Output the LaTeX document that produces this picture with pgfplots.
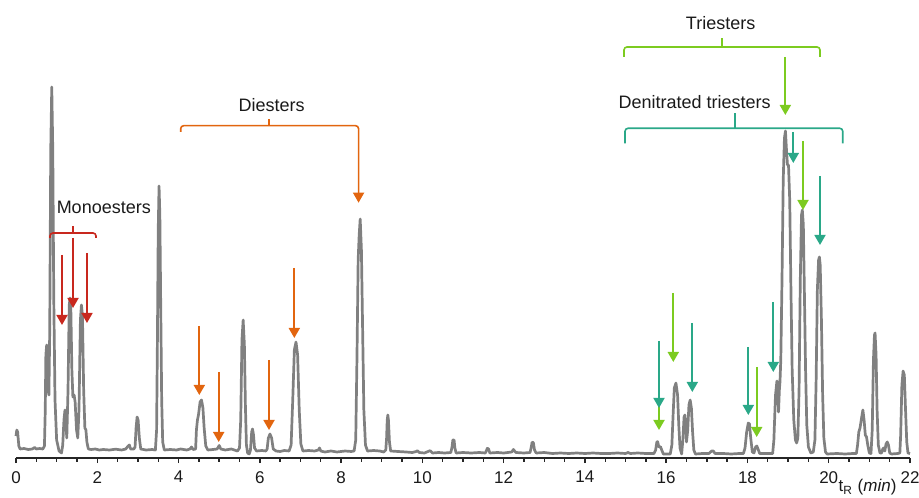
\documentclass[border=0pt]{standalone}
\usepackage{fontspec}
\setmainfont{Liberation Sans}
\usepackage{pgfplots}
\pgfplotsset{compat=1.18}
\usetikzlibrary{arrows.meta}
\definecolor{trace}{HTML}{808080}
\definecolor{monored}{HTML}{C8281E}
\definecolor{diorange}{HTML}{E2650F}
\definecolor{trigreen}{HTML}{7CCB20}
\definecolor{denteal}{HTML}{2AA888}
\definecolor{txt}{HTML}{1A1A1A}
\tikzset{
  ann/.style={line width=0.9pt, -{Triangle[width=5.5pt,length=5pt]}},
  brk/.style={line width=0.8pt, rounded corners=1.5pt},
  lbl/.style={text=txt, font=\fontsize{9}{11}\selectfont},
}

\begin{document}
\begin{tikzpicture}
% page = 919x497 px at 0.5pt per px, plot box starts at px (16,458)
\useasboundingbox (-8pt,-19.5pt) rectangle (451.5pt,229pt);
\begin{axis}[
  at={(0,0)}, anchor=south west,
  scale only axis,
  width=447pt, height=229pt,
  xmin=0, xmax=22, ymin=-8, ymax=450,
  clip=false,
  axis x line=bottom, axis y line=none,
  x axis line style={-, line width=0.75pt, draw=black!85},
  xtick={0,2,...,22},
  minor x tick num=3,
  tick align=outside,
  major tick length=2.6pt, minor tick length=2pt,
  every tick/.style={line width=0.7pt, black!85},
  tick label style={font=\fontsize{8.5}{10}\selectfont, text=txt},
  /pgf/number format/assume math mode=true,
  xticklabel style={yshift=-0.5pt},
]
\addplot[trace, line width=1.35pt, line join=round] coordinates {
(0.00,14)(0.02,20)(0.04,18)(0.07,4)(0.1,1)(0.2,1.5)(0.3,0.5)(0.4,1)(0.46,2.5)(0.5,1)(0.58,1.5)(0.66,1)
(0.70,4)(0.72,40)(0.735,95)(0.755,105)(0.775,92)(0.79,60)(0.81,55)(0.83,120)(0.855,300)(0.88,363)(0.905,300)(0.93,150)(0.96,50)(1.0,10)(1.06,-1)(1.12,-3)
(1.15,5)(1.18,30)(1.205,40)(1.225,30)(1.25,12)(1.28,60)(1.31,145)(1.33,152)(1.35,140)(1.375,80)(1.40,53)(1.43,55)(1.455,48)(1.49,20)(1.52,12)(1.55,40)(1.585,130)(1.61,145)(1.635,135)(1.665,60)(1.695,22)(1.72,20)(1.745,8)(1.78,1)(1.85,0.5)(1.95,1)(2.05,0)(2.15,0.5)(2.3,0)(2.45,0.8)(2.6,0)(2.7,1)(2.76,4)(2.79,5)(2.82,1)(2.9,1)
(2.93,3)(2.955,22)(2.98,33)(3.005,30)(3.035,12)(3.07,1)(3.2,0)(3.35,0.5)(3.43,0)
(3.46,20)(3.48,110)(3.50,220)(3.52,264)(3.54,235)(3.56,150)(3.585,50)(3.61,8)(3.65,0)(3.8,0.5)(3.95,0)(4.05,1)(4.2,0)(4.28,1)(4.32,3)(4.36,0.5)
(4.42,1)(4.44,20)(4.465,30)(4.49,35)(4.53,48)(4.565,50)(4.6,42)(4.63,22)(4.67,4)(4.72,0)(4.85,0.5)(4.95,1)(5.0,4.5)(5.04,1)(5.15,0)(5.3,1)(5.45,-1)(5.5,2)
(5.53,30)(5.56,110)(5.59,130)(5.62,105)(5.645,45)(5.67,5)(5.7,-3)(5.74,-4)
(5.77,0)(5.8,18)(5.82,21)(5.845,15)(5.87,2)(5.92,-1)(6.05,-0.5)(6.15,-1)
(6.18,1)(6.21,12)(6.25,16)(6.29,12)(6.33,1)(6.4,-1)(6.5,-1.5)(6.6,-0.5)(6.72,-1)
(6.77,5)(6.81,50)(6.85,100)(6.89,108)(6.93,95)(6.97,40)(7.01,6)(7.06,-1)(7.2,-0.5)(7.35,-1)(7.44,0)(7.47,2)(7.5,-1)(7.6,-2)(7.75,-1)(7.9,-2)(8.1,-1)(8.25,-1.5)(8.32,-1)
(8.36,10)(8.39,90)(8.42,190)(8.445,215)(8.47,231)(8.5,200)(8.53,120)(8.56,40)(8.6,5)(8.65,-1)(8.8,-0.5)(8.95,-1)(9.05,-2)(9.1,0)
(9.12,12)(9.135,30)(9.15,35)(9.165,30)(9.19,8)(9.22,-1)(9.4,-1.5)(9.6,-2)(9.75,-2.5)(9.85,-1.5)(9.88,-0.7)(9.92,-2.5)(10.05,-3)(10.19,-0.7)(10.25,-3)(10.4,-2.5)(10.55,-3)(10.7,-2.5)
(10.73,3)(10.75,10)(10.78,10)(10.8,2)(10.83,-3)(11.0,-2.5)(11.2,-3)(11.4,-2.5)(11.55,-3)(11.6,1.7)(11.63,1)(11.66,-3)(11.85,-2.5)(12.0,-3)(12.2,-2)(12.24,0.5)(12.3,-2.5)(12.5,-3)(12.65,-2.5)
(12.68,3)(12.7,7.7)(12.73,7.5)(12.76,0)(12.8,-3)(13.0,-2.5)(13.2,-3.5)(13.4,-3)(13.6,-3.5)(13.8,-3)(14.0,-3.5)(14.2,-3)(14.4,-3.5)(14.6,-3.5)(14.8,-3)(15.0,-3.5)(15.06,-2.5)(15.12,-3.5)(15.3,-3)(15.5,-3.5)(15.7,-3.5)
(15.74,0)(15.77,8)(15.79,8.3)(15.82,3)(15.86,3.3)(15.89,0)(15.93,-4)(16.1,-4)
(16.14,5)(16.17,35)(16.2,62)(16.24,67)(16.28,55)(16.31,25)(16.34,2)(16.38,-4)(16.41,10)(16.44,33)(16.46,35)(16.48,25)(16.5,8)(16.53,20)(16.56,45)(16.59,50)(16.62,42)(16.65,18)(16.68,0)(16.72,-4)(16.9,-3.5)(17.05,-3.5)(17.12,-1)(17.16,-1)(17.2,-3.5)(17.4,-3.5)(17.6,-4)(17.8,-3.5)(17.9,-3.5)
(17.94,2)(17.98,18)(18.02,27)(18.05,26)(18.08,12)(18.12,-2)(18.16,-3)(18.2,3)(18.23,4)(18.26,1)(18.3,-3.5)(18.5,-3.5)(18.62,-3.5)
(18.65,10)(18.69,55)(18.725,69)(18.75,55)(18.765,38)(18.785,60)(18.8,68)(18.82,90)(18.85,170)(18.88,270)(18.91,312)(18.935,319)(18.96,300)(18.985,285)(19.01,285)(19.04,250)(19.07,160)(19.1,80)(19.14,30)(19.18,10)(19.21,7)(19.24,12)(19.27,60)(19.3,170)(19.33,235)(19.35,240)(19.375,225)(19.4,160)(19.43,80)(19.46,25)(19.5,3)(19.56,-3)(19.62,-2)(19.66,10)(19.69,70)(19.72,160)(19.75,190)(19.77,193)(19.79,185)(19.82,130)(19.85,55)(19.88,12)(19.92,-2)(19.96,-4)(20.2,-3.5)(20.4,-4)(20.6,-3.5)(20.68,-3.5)
(20.71,5)(20.74,18)(20.77,22)(20.8,30)(20.84,40)(20.87,30)(20.9,15)(20.93,13)(20.96,5)(21.0,-3)(21.04,-3.5)
(21.07,20)(21.1,90)(21.125,115)(21.14,117)(21.165,95)(21.19,40)(21.22,5)(21.26,-3)(21.3,-3)(21.33,1)(21.35,2)(21.38,-1)(21.41,6)(21.44,8)(21.47,5)(21.5,-3)(21.55,-4)(21.7,-3.5)(21.75,-3)
(21.77,15)(21.8,65)(21.83,79)(21.86,75)(21.89,40)(21.92,8)(21.95,-3)(22.0,-3.5)
};

% Monoesters
\node[lbl] at (axis cs:2.16,243) {Monoesters};
\draw[brk, monored] (axis cs:0.837,212) -- (axis cs:0.837,217) -- (axis cs:1.969,217) -- (axis cs:1.969,212);
\draw[brk, monored] (axis cs:1.403,217) -- (axis cs:1.403,224);
\draw[ann, monored] (axis cs:1.132,195) -- (axis cs:1.132,125);
\draw[ann, monored] (axis cs:1.403,212) -- (axis cs:1.403,142);
\draw[ann, monored] (axis cs:1.747,197) -- (axis cs:1.747,127);

% Diesters
\node[lbl] at (axis cs:6.29,345) {Diesters};
\draw[brk, diorange, -{Triangle[width=5.5pt,length=5pt]}] (axis cs:4.053,318) -- (axis cs:4.053,324.3) -- (axis cs:8.43,324.3) -- (axis cs:8.43,247.3);
\draw[brk, diorange] (axis cs:6.233,324.3) -- (axis cs:6.233,330.7);
\draw[ann, diorange] (axis cs:4.511,124) -- (axis cs:4.511,55);
\draw[ann, diorange] (axis cs:4.988,78) -- (axis cs:4.988,8);
\draw[ann, diorange] (axis cs:6.226,90) -- (axis cs:6.226,20);
\draw[ann, diorange] (axis cs:6.849,182) -- (axis cs:6.849,112);

% Triesters
\node[lbl] at (axis cs:17.34,427) {Triesters};
\draw[brk, trigreen] (axis cs:14.962,393) -- (axis cs:14.962,403) -- (axis cs:19.785,403) -- (axis cs:19.785,393);
\draw[brk, trigreen] (axis cs:17.374,403) -- (axis cs:17.374,412);
\draw[ann, trigreen] (axis cs:18.932,393) -- (axis cs:18.932,335);
\draw[ann, trigreen] (axis cs:15.823,44) -- (axis cs:15.823,20);
\draw[ann, trigreen] (axis cs:16.175,157) -- (axis cs:16.175,88);
\draw[ann, trigreen] (axis cs:18.227,83) -- (axis cs:18.227,13);
\draw[ann, trigreen] (axis cs:19.367,309) -- (axis cs:19.367,240);

% Denitrated triesters
\node[lbl] at (axis cs:16.70,348) {Denitrated triesters};
\draw[brk, denteal] (axis cs:14.987,306.7) -- (axis cs:14.987,321.7) -- (axis cs:20.345,321.7) -- (axis cs:20.345,306.7);
\draw[brk, denteal] (axis cs:17.694,321.7) -- (axis cs:17.694,336.7);
\draw[ann, denteal] (axis cs:15.823,109) -- (axis cs:15.823,42);
\draw[ann, denteal] (axis cs:16.643,127) -- (axis cs:16.643,58);
\draw[ann, denteal] (axis cs:18.021,103) -- (axis cs:18.021,35);
\draw[ann, denteal] (axis cs:18.636,148) -- (axis cs:18.636,78);
\draw[ann, denteal] (axis cs:19.128,318) -- (axis cs:19.128,287);
\draw[ann, denteal] (axis cs:19.785,274) -- (axis cs:19.785,205);

% axis label
\node[text=txt, font=\fontsize{8.5}{10}\selectfont, inner sep=0pt] at (axis cs:20.955,-37.5) {t\textsubscript{R} (\textit{min})};
\end{axis}
\end{tikzpicture}
\end{document}
